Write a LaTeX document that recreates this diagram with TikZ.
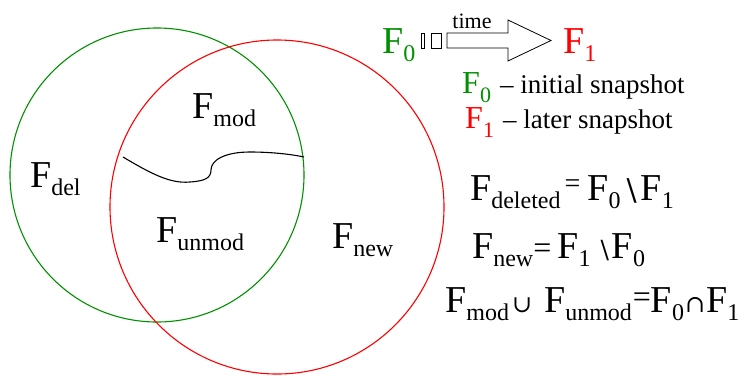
\documentclass[tikz,border=0pt]{standalone}
\usepackage{fontspec}
\setmainfont{Liberation Serif}
\newfontfamily\setopsfont{DejaVu Serif}
\usetikzlibrary{positioning}
\definecolor{snapgreen}{RGB}{0,144,0}
\definecolor{snapred}{RGB}{255,0,0}
\newcommand{\sub}[1]{\raisebox{-8pt}{\fontsize{24}{24}\selectfont #1}}
\newcommand{\lsub}[1]{\raisebox{-9pt}{\fontsize{22}{22}\selectfont #1}}
\newcommand{\opsym}[3]{\raisebox{#2}{\fontsize{#1}{#1}\selectfont #3}}

\begin{document}
\begin{tikzpicture}[x=1pt, y=-1pt,
  big/.style={anchor=base west, inner sep=0pt, font=\fontsize{38}{40}\selectfont},
  leg/.style={anchor=base west, inner sep=0pt, font=\fontsize{32}{34}\selectfont},
  note/.style={anchor=base west, inner sep=0pt, font=\fontsize{27}{29}\selectfont},
  set/.style={line width=1.1pt},
]
\useasboundingbox (0,0) rectangle (754,375);
% snapshots F0 and F1
\draw[set, snapgreen] (157,175) circle (147);
\draw[set, snapred] (277,207) circle (167);
% border between modified and unmodified files
\coordinate (cutL) at (123,157);
\coordinate (cutR) at (304,157);
\draw[set] (cutL) .. controls (150,173) and (170,184) .. (190,182)
  .. controls (205,181) and (211,178) .. (211,170)
  .. controls (211,160) and (225,152) .. (250,152)
  .. controls (270,152) and (290,154) .. (cutR);
% region labels
\node[big] (del) at (30,187) {F\sub{del}};
\node[big] (mod) at (192,118) {F\sub{mod}};
\node[big] (unmod) at (156,242) {F\sub{unmod}};
\node[big] (new) at (332,248) {F\sub{new}};
% time arrow
\node[big, snapgreen] (f0) at (382,53) {F\sub{0}};
\node[big, snapred] (f1) at (563,53) {F\sub{1}};
\draw[line width=0.8pt] (421,33) rectangle (424,48);
\draw[line width=0.8pt] (431,33) rectangle (441,48);
\draw[line width=0.8pt] (447,33) -- (508,33) -- (508,20) -- (551,40.5)
  -- (508,61) -- (508,48) -- (447,48) -- cycle;
\node[anchor=base, inner sep=0pt, font=\fontsize{22}{22}\selectfont] (time) at (472,28) {time};
% legend
\node[leg, snapgreen] (l0) at (462,93) {F\lsub{0}};
\node[note] (l0txt) at (500,93) {-- initial snapshot};
\node[leg, snapred] (l1) at (465,128) {F\lsub{1}};
\node[note] (l1txt) at (503,128) {-- later snapshot};
% definitions
\node[big] (fdel) at (470,200) {F\sub{deleted}\hspace{4pt}\opsym{28}{8pt}{=}\hspace{7pt}F\sub{0}\hspace{6pt}\opsym{30}{0pt}{\setopsfont\textbackslash}\hspace{4pt}F\sub{1}};
\node[big] (fnew) at (472,258) {F\sub{new}\opsym{32}{0pt}{=}\hspace{6pt}F\sub{1}\hspace{10pt}\opsym{25}{0pt}{\setopsfont\textbackslash}\hspace{3pt}F\sub{0}};
\node[big] (fsame) at (445,312) {F\sub{mod}\hspace{3pt}\opsym{24}{0pt}{\setopsfont ∪}\hspace{12pt}F\sub{unmod}\hspace{1pt}\opsym{32}{5pt}{=}F\sub{0}\hspace{1pt}\opsym{24}{0pt}{\setopsfont ∩}\hspace{1pt}F\sub{1}};
\end{tikzpicture}
\end{document}
